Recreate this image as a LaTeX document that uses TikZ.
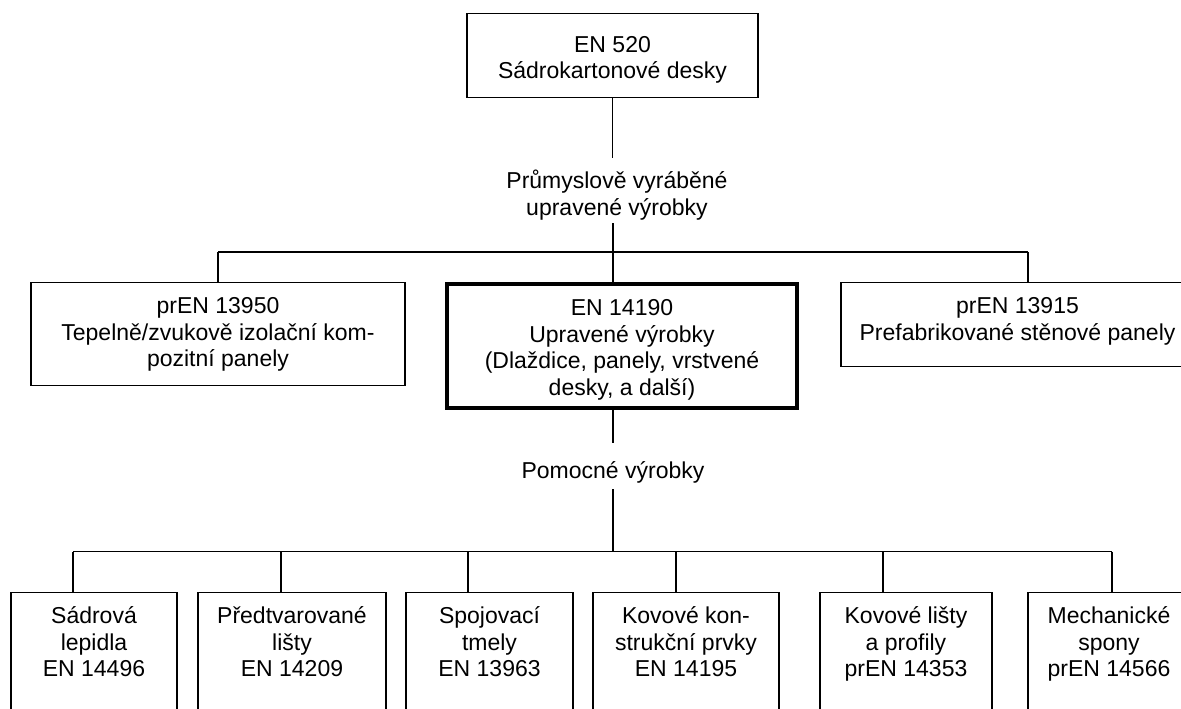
\documentclass[tikz,border=0pt]{standalone}
\usepackage{fontspec}
\setmainfont{Liberation Sans}
\usepackage{tikz}

\newcommand{\lines}[1]{\begin{tabular}[t]{@{}c@{}}#1\end{tabular}}

\begin{document}
\fontsize{11.5}{13.25}\selectfont
\begin{tikzpicture}[x=0.5pt, y=-0.5pt, line width=0.7pt,
                    box/.style = {draw, anchor=north, inner sep=0pt, text height=15.5pt},
                    thick box/.style = {box, line width=1.8pt},
                    caption/.style = {anchor=north, inner sep=0pt}]
                            \useasboundingbox (0,0) rectangle (1181,708);

                            \node[box, text height=19.25pt, text depth=22.75pt, minimum width=145.5pt] (en520) at (612.5,13) {\lines{EN 520\\Sádrokartonové desky}};
                            \node[caption, text height=15pt, text depth=17pt] (prumysl) at (617,158) {\lines{Průmyslově vyráběné\\upravené výrobky}};

                            \node[box, text depth=36pt, minimum width=187pt] (pren13950) at (218,282) {\lines{prEN 13950\\Tepelně/zvukově izolační kom-\\pozitní panely}};
                            \node[thick box, text height=16pt, text depth=46pt, minimum width=175pt] (en14190) at (622,282) {\lines{EN 14190\\Upravené výrobky\\(Dlaždice, panely, vrstvené\\desky, a další)}};
                            \node[box, text depth=26.5pt, minimum width=176.5pt] (pren13915) at (1017.5,282) {\lines{prEN 13915\\Prefabrikované stěnové panely}};

                            \node[caption, text height=17.5pt, text depth=5pt] (pomocne) at (613,443) {Pomocné výrobky};

                            \node[box, text depth=100pt, minimum width=83pt] (en14496) at (94,592) {\lines{Sádrová\\lepidla\\EN 14496}};
                            \node[box, text depth=100pt, minimum width=94pt] (en14209) at (292,592) {\lines{Předtvarované\\lišty\\EN 14209}};
                            \node[box, text depth=100pt, minimum width=83.5pt] (en13963) at (489.5,592) {\lines{Spojovací\\tmely\\EN 13963}};
                            \node[box, text depth=100pt, minimum width=93pt] (en14195) at (686,592) {\lines{Kovové kon-\\strukční prvky\\EN 14195}};
                            \node[box, text depth=100pt, minimum width=86pt] (pren14353) at (906,592) {\lines{Kovové lišty\\a profily\\prEN 14353}};
                            \node[box, text depth=100pt, minimum width=81pt] (pren14566) at (1109,592) {\lines{Mechanické\\spony\\prEN 14566}};

                            \coordinate (bus) at (613,252);
                            \coordinate (s1) at (218,252);
                            \coordinate (s3) at (1028,252);
                            \coordinate (t1) at (73,551.5);
                            \coordinate (t2) at (281,551.5);
                            \coordinate (t3) at (468,551.5);
                            \coordinate (t4) at (676,551.5);
                            \coordinate (t5) at (883,551.5);
                            \coordinate (t6) at (1112,551.5);

                            \draw (en520.south) to (en520.south |- prumysl.north);
                            \draw (bus |- prumysl.south) to (bus |- en14190.north);
                            \draw (s1) to (s3);
                            \draw (s1) to (s1 |- pren13950.north);
                            \draw (s3) to (s3 |- pren13915.north);

                            \draw (bus |- en14190.south) to (bus |- pomocne.north);
                            \draw (bus |- pomocne.south) to (bus |- t1);
                            \draw (t1) to (t6);
                            \draw (t1) to (t1 |- en14496.north);
                            \draw (t2) to (t2 |- en14209.north);
                            \draw (t3) to (t3 |- en13963.north);
                            \draw (t4) to (t4 |- en14195.north);
                            \draw (t5) to (t5 |- pren14353.north);
                            \draw (t6) to (t6 |- pren14566.north);
                        \end{tikzpicture}
\end{document}
